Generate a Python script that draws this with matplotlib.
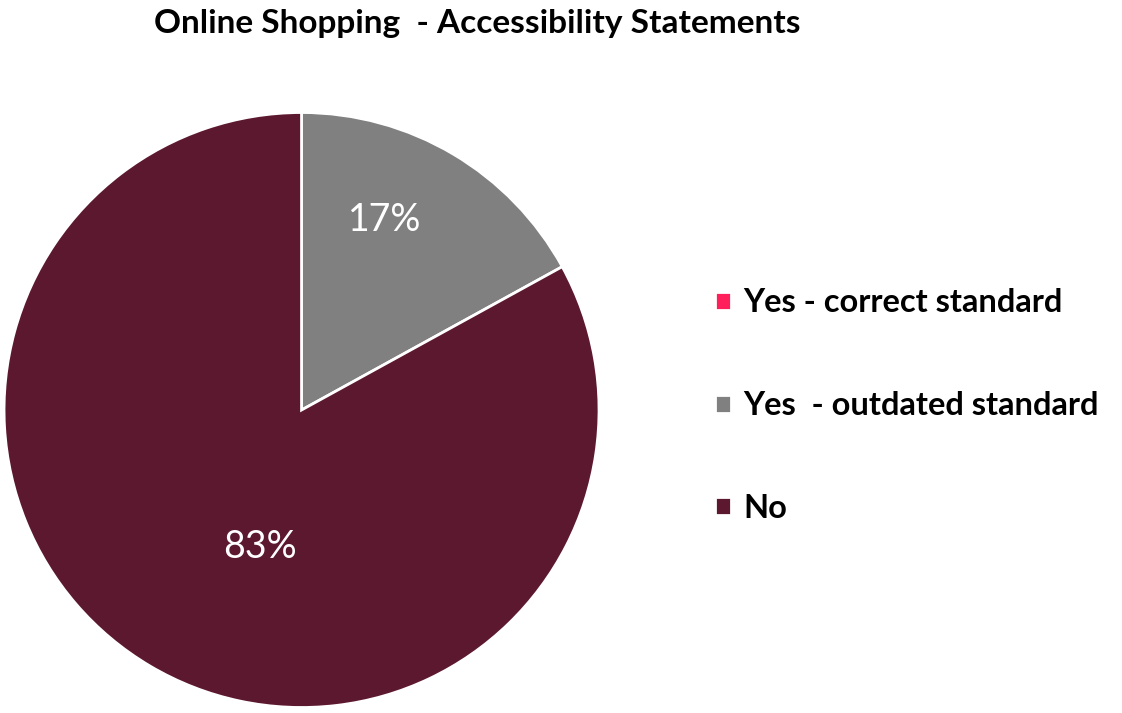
import matplotlib
matplotlib.use('Agg')
import matplotlib.pyplot as plt

plt.rcParams['font.family'] = ['Lato', 'DejaVu Sans']

# survey split of accessibility statements on shopping sites
categories = ['Yes - correct standard', 'Yes  - outdated standard', 'No']
shares = [0, 17, 83]
colours = ['#FF1F5B', '#808080', '#5C182E']

fig = plt.figure(figsize=(11.22, 7.13), dpi=100)
ax = fig.add_axes([0.0036, 0.0077, 0.5303, 0.8345])

wedges, texts, pct_texts = ax.pie(
    shares, colors=colours, startangle=90, counterclock=False,
    autopct=lambda p: f'{p:.0f}%' if p > 0 else '',
    pctdistance=0.6,
    wedgeprops=dict(edgecolor='white', linewidth=2),
    textprops=dict(color='white', fontsize=27))
ax.set_xlim(-1, 1)
ax.set_ylim(-1, 1)
ax.set_aspect('equal')

# nudge the percentage labels to where they sit in the slices
label_pos = {1: (0.28, 0.64), 2: (-0.14, -0.46)}
for i, (x, y) in label_pos.items():
    pct_texts[i].set_position((x, y))

fig.text(0.425, 0.967, 'Online Shopping  - Accessibility Statements',
         ha='center', va='center', fontsize=24, fontweight='bold')

leg = fig.legend(wedges, categories, loc='center left',
                 bbox_to_anchor=(0.611, 0.431), frameon=False,
                 handlelength=0.48, handleheight=0.48, handletextpad=0.4,
                 labelspacing=2.26,
                 prop=dict(size=23.5, weight='bold'))

fig.savefig('out.png', dpi=100)
